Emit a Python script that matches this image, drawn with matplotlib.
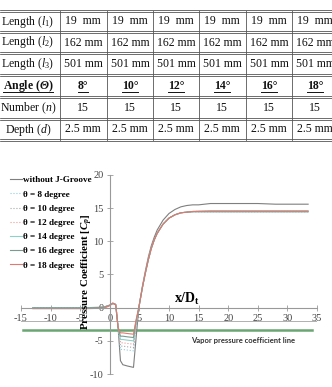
import matplotlib.pyplot as plt

plt.rcParams['font.family'] = 'Liberation Serif'
plt.rcParams['axes.unicode_minus'] = False
plt.rcParams['mathtext.fontset'] = 'custom'
plt.rcParams['mathtext.rm'] = 'Liberation Serif'
plt.rcParams['mathtext.it'] = 'Liberation Serif:italic'
plt.rcParams['mathtext.bf'] = 'Liberation Serif:bold:italic'
plt.rcParams['mathtext.sf'] = 'Liberation Serif:bold'

# ---- table data ----
row_labels = ['Length ($l_1$)', 'Length ($l_2$)', 'Length ($l_3$)',
              'Angle ($\\mathbf{\\Theta}$)', 'Number ($n$)', 'Depth ($d$)']
l1_mm = [19, 19, 19, 19, 19, 19]
l2_mm = [162, 162, 162, 162, 162, 162]
l3_mm = [501, 501, 501, 501, 501, 501]
angles = [8, 10, 12, 14, 16, 18]
numbers = [15, 15, 15, 15, 15, 15]
depths = [2.5, 2.5, 2.5, 2.5, 2.5, 2.5]

# ---- chart data (x/Dt vs Cp) ----
x_pos = [-13, -8, -4, -2, -1, 0, 0.5, 1.0, 1.4, 1.8, 2.2, 3.0, 4.0, 4.4, 4.9,
         5.5, 6.0, 6.5, 7.0, 7.5, 8, 9, 10, 11, 12, 13, 14, 15, 17, 20, 25, 28, 33.5]
cp_without = [0.0, 0.0, 0.0, 0.05, 0.1, 0.4, 0.7, 0.5, -3.0, -8.0, -8.6, -8.8, -9.0, -5.0, 0.0,
              3.2, 5.5, 7.6, 9.3, 10.6, 11.7, 13.2, 14.2, 14.8, 15.2, 15.4, 15.5, 15.5, 15.7, 15.7, 15.7, 15.6, 15.6]
cp_8 = [-0.05, -0.05, -0.05, 0.0, 0.05, 0.35, 0.65, 0.45, -3.0, -6.3, -6.3, -6.4, -6.5, -3.2, 0.0,
        3.0, 5.2, 7.2, 8.9, 10.2, 11.2, 12.6, 13.5, 14.0, 14.3, 14.4, 14.45, 14.45, 14.45, 14.45, 14.45, 14.45, 14.45]
cp_10 = [-0.05, -0.05, -0.05, 0.0, 0.05, 0.35, 0.65, 0.45, -3.0, -5.8, -5.8, -5.9, -6.0, -3.0, 0.0,
         3.0, 5.2, 7.2, 8.9, 10.2, 11.2, 12.6, 13.5, 14.0, 14.3, 14.4, 14.5, 14.5, 14.5, 14.5, 14.5, 14.5, 14.5]
cp_12 = [-0.05, -0.05, -0.05, 0.0, 0.05, 0.35, 0.65, 0.45, -3.0, -5.3, -5.3, -5.4, -5.5, -2.7, 0.0,
         3.0, 5.2, 7.2, 8.9, 10.2, 11.2, 12.6, 13.5, 14.0, 14.3, 14.4, 14.5, 14.5, 14.5, 14.5, 14.5, 14.5, 14.5]
cp_14 = [-0.05, -0.05, -0.05, 0.0, 0.05, 0.35, 0.65, 0.45, -3.0, -4.8, -4.8, -4.9, -5.0, -2.5, 0.0,
         3.0, 5.2, 7.2, 8.9, 10.2, 11.2, 12.6, 13.5, 14.0, 14.3, 14.4, 14.5, 14.5, 14.5, 14.5, 14.5, 14.5, 14.5]
cp_16 = [-0.05, -0.05, -0.05, 0.0, 0.05, 0.35, 0.65, 0.45, -3.0, -4.3, -4.3, -4.4, -4.5, -2.2, 0.0,
         3.0, 5.2, 7.2, 8.9, 10.2, 11.2, 12.6, 13.5, 14.0, 14.3, 14.4, 14.45, 14.45, 14.45, 14.45, 14.45, 14.45, 14.45]
cp_18 = [-0.15, -0.15, -0.15, -0.1, -0.1, 0.3, 0.65, 0.45, -3.0, -3.8, -3.8, -3.9, -4.0, -2.0, 0.0,
         3.0, 5.2, 7.2, 8.9, 10.2, 11.2, 12.6, 13.5, 14.0, 14.3, 14.4, 14.5, 14.55, 14.6, 14.6, 14.6, 14.6, 14.6]
vapor_x = [-14.6, 34.1]
vapor_cp = [-3.35, -3.35]

W, H = 332, 387
fig = plt.figure(figsize=(W / 100, H / 100), dpi=100)

# ---- table, drawn in pixel coordinates ----
tab = fig.add_axes([0, 0, 1, 1])
tab.set_xlim(0, W)
tab.set_ylim(H, 0)
tab.axis('off')

row_lines = [11, 32, 53, 75, 97, 119, 140]
col_lines = [60, 106.5, 153, 199, 245.5, 291.5]
col_centers = [83, 130, 176, 222, 269, 315]

for y in row_lines:
    tab.plot([0, W], [y - 0.8, y - 0.8], color='#333333', lw=0.5)
    tab.plot([0, W], [y + 0.8, y + 0.8], color='#333333', lw=0.5)
for x in col_lines:
    tab.plot([x, x], [row_lines[0], row_lines[-1]], color='#555555', lw=0.6)

rows = [
    [f'{v}  mm' for v in l1_mm],
    [f'{v} mm' for v in l2_mm],
    [f'{v} mm' for v in l3_mm],
    [f'{v}°' for v in angles],
    [f'{v}' for v in numbers],
    [f'{v} mm' for v in depths],
]

underline = []
for i, (lab, vals) in enumerate(zip(row_labels, rows)):
    yc = (row_lines[i] + row_lines[i + 1]) / 2
    bold = 'bold' if i == 3 else 'normal'
    t = tab.text(28, yc, lab, ha='center', va='center', fontsize=8.5,
                 fontweight=bold, color='#111111')
    if i == 3:
        underline.append((t, yc))
    for xc, v in zip(col_centers, vals):
        t = tab.text(xc, yc, v, ha='center', va='center', fontsize=8.5,
                     fontweight=bold, color='#111111')
        if i == 3:
            underline.append((t, yc))

fig.canvas.draw()
r = fig.canvas.get_renderer()
inv = tab.transData.inverted()
for t, yc in underline:
    bb = t.get_window_extent(r)
    (x0, _), (x1, _) = inv.transform([[bb.x0, bb.y0], [bb.x1, bb.y0]])
    tab.plot([x0, x1], [yc + 6, yc + 6], color='#111111', lw=0.7)

# ---- chart ----
ax = fig.add_axes([21 / W, 1 - 374 / H, 296 / W, 199 / H])
ax.patch.set_alpha(0)
ax.set_xlim(-15, 35)
ax.set_ylim(-10, 20)

ax.axhline(-1.95, color='#b0b0b0', lw=0.7, zorder=0)
ax.plot(vapor_x, vapor_cp, color='#6aa673', lw=1.8, zorder=1)

series = [
    ('without J-Groove', cp_without, '#7f7f7f', '-'),
    ('θ = 8 degree', cp_8, '#8ccfe3', ':'),
    ('θ = 10 degree', cp_10, '#a8a8a8', ':'),
    ('θ = 12 degree', cp_12, '#f09a96', ':'),
    ('θ = 14 degree', cp_14, '#8dd2c8', '-'),
    ('θ = 16 degree', cp_16, '#7b9a90', '-'),
    ('θ = 18 degree', cp_18, '#e07a70', '-'),
]
for lab, cp, c, ls in series:
    ax.plot(x_pos, cp, color=c, ls=ls, lw=0.8, label=lab, zorder=2)

for s in ['top', 'right']:
    ax.spines[s].set_visible(False)
ax.spines['left'].set_position(('data', 0))
ax.spines['bottom'].set_position(('data', 0))
for s in ['left', 'bottom']:
    ax.spines[s].set_color('#999999')
    ax.spines[s].set_linewidth(0.8)
ax.set_xticks(range(-15, 36, 5))
ax.set_yticks(range(-10, 21, 5))
ax.tick_params(direction='inout', length=4, width=0.6, color='#999999',
               labelsize=7.5, labelcolor='#444444', pad=2.5)

ax.text(-3.7, 5.4, 'Pressure Coefficient [$\\mathbf{C_p}$]', rotation=90,
        ha='center', va='center', fontsize=7.8, fontweight='bold')
ax.text(13, 1.3, 'x/D$_{\\mathsf{t}}$', ha='center', va='center',
        fontsize=10, fontweight='bold')
ax.text(22.5, -4.9, 'Vapor pressure coefficient line', family='Lato',
        fontsize=5.5, fontweight='bold', color='#333333', ha='center', va='center')

ax.legend(loc='upper left', bbox_to_anchor=(10 / W, 1 - 176 / H),
          bbox_transform=fig.transFigure, frameon=False,
          prop=dict(family='Liberation Serif', weight='bold', size=6.6),
          handlelength=1.3, handletextpad=0.15, labelspacing=0.63,
          borderpad=0, borderaxespad=0)

fig.savefig('out.png', dpi=100)
